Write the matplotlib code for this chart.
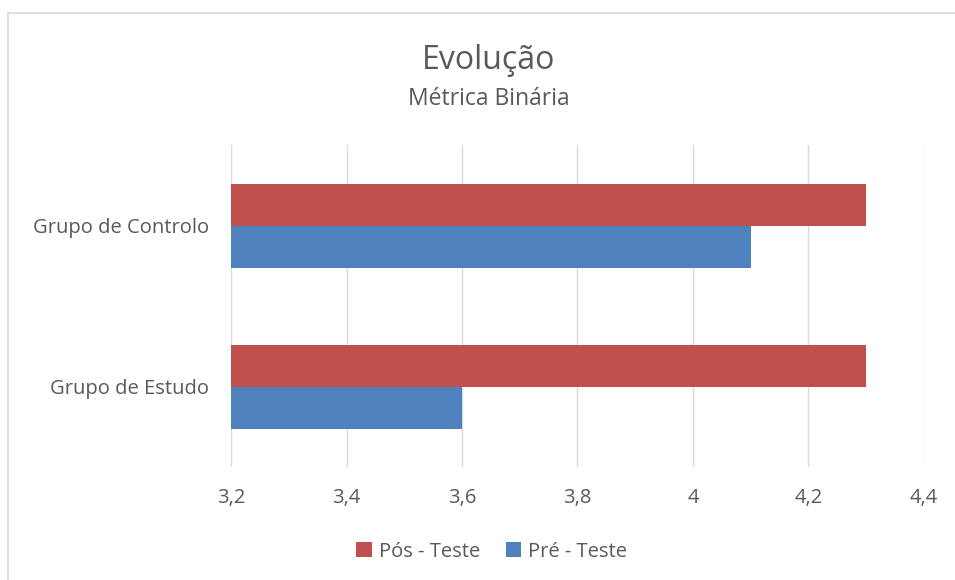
import matplotlib
matplotlib.use("Agg")
import matplotlib.pyplot as plt
from matplotlib.patches import Rectangle

plt.rcParams['font.family'] = ['Open Sans', 'DejaVu Sans']

groups = ["Grupo de Estudo", "Grupo de Controlo"]
pos_teste = [4.3, 4.3]
pre_teste = [3.6, 4.1]
x_ticks = [3.2, 3.4, 3.6, 3.8, 4.0, 4.2, 4.4]
x_tick_labels = ["3,2", "3,4", "3,6", "3,8", "4", "4,2", "4,4"]

text_color = "#595959"
grid_color = "#d9d9d9"
red = "#c0504d"
blue = "#4f81bd"
base = 3.2

fig = plt.figure(figsize=(9.55, 5.8), dpi=100)
ax = fig.add_axes([0.2419, 0.1948, 0.7256, 0.5552])

bar_h = 0.261
ypos = list(range(len(groups)))
ax.barh([y + bar_h / 2 for y in ypos], [v - base for v in pos_teste], left=base,
        height=bar_h, color=red, label="Pós - Teste", zorder=3)
ax.barh([y - bar_h / 2 for y in ypos], [v - base for v in pre_teste], left=base,
        height=bar_h, color=blue, label="Pré - Teste", zorder=3)

ax.set_xlim(3.2, 4.4)
ax.set_ylim(-0.497, 1.503)
ax.set_xticks(x_ticks)
ax.set_xticklabels(x_tick_labels)
ax.set_yticks(ypos)
ax.set_yticklabels(groups)
ax.tick_params(axis='both', length=0, labelsize=14.5, colors=text_color)
ax.tick_params(axis='x', pad=15)
ax.tick_params(axis='y', pad=16)
ax.grid(axis='x', color=grid_color, linewidth=1, zorder=0)
for s in ax.spines.values():
    s.set_visible(False)

fig.text(0.512, 0.895, "Evolução", ha='center', va='center', fontsize=23, color=text_color)
fig.text(0.512, 0.83, "Métrica Binária", ha='center', va='center', fontsize=16.5, color=text_color)

ax.legend(loc='center', bbox_to_anchor=(0.515, 0.049), bbox_transform=fig.transFigure,
          ncol=2, frameon=False, fontsize=14.5, labelcolor=text_color,
          handlelength=0.75, handleheight=0.75, handletextpad=0.35, columnspacing=1.3)

# chart frame
fig.add_artist(Rectangle((8 / 955, -0.05), 1.1, 1 - 13 / 580 + 0.05,
                         transform=fig.transFigure, fill=False,
                         edgecolor=grid_color, linewidth=1.2))

fig.savefig("out.png", dpi=100, facecolor="white")
